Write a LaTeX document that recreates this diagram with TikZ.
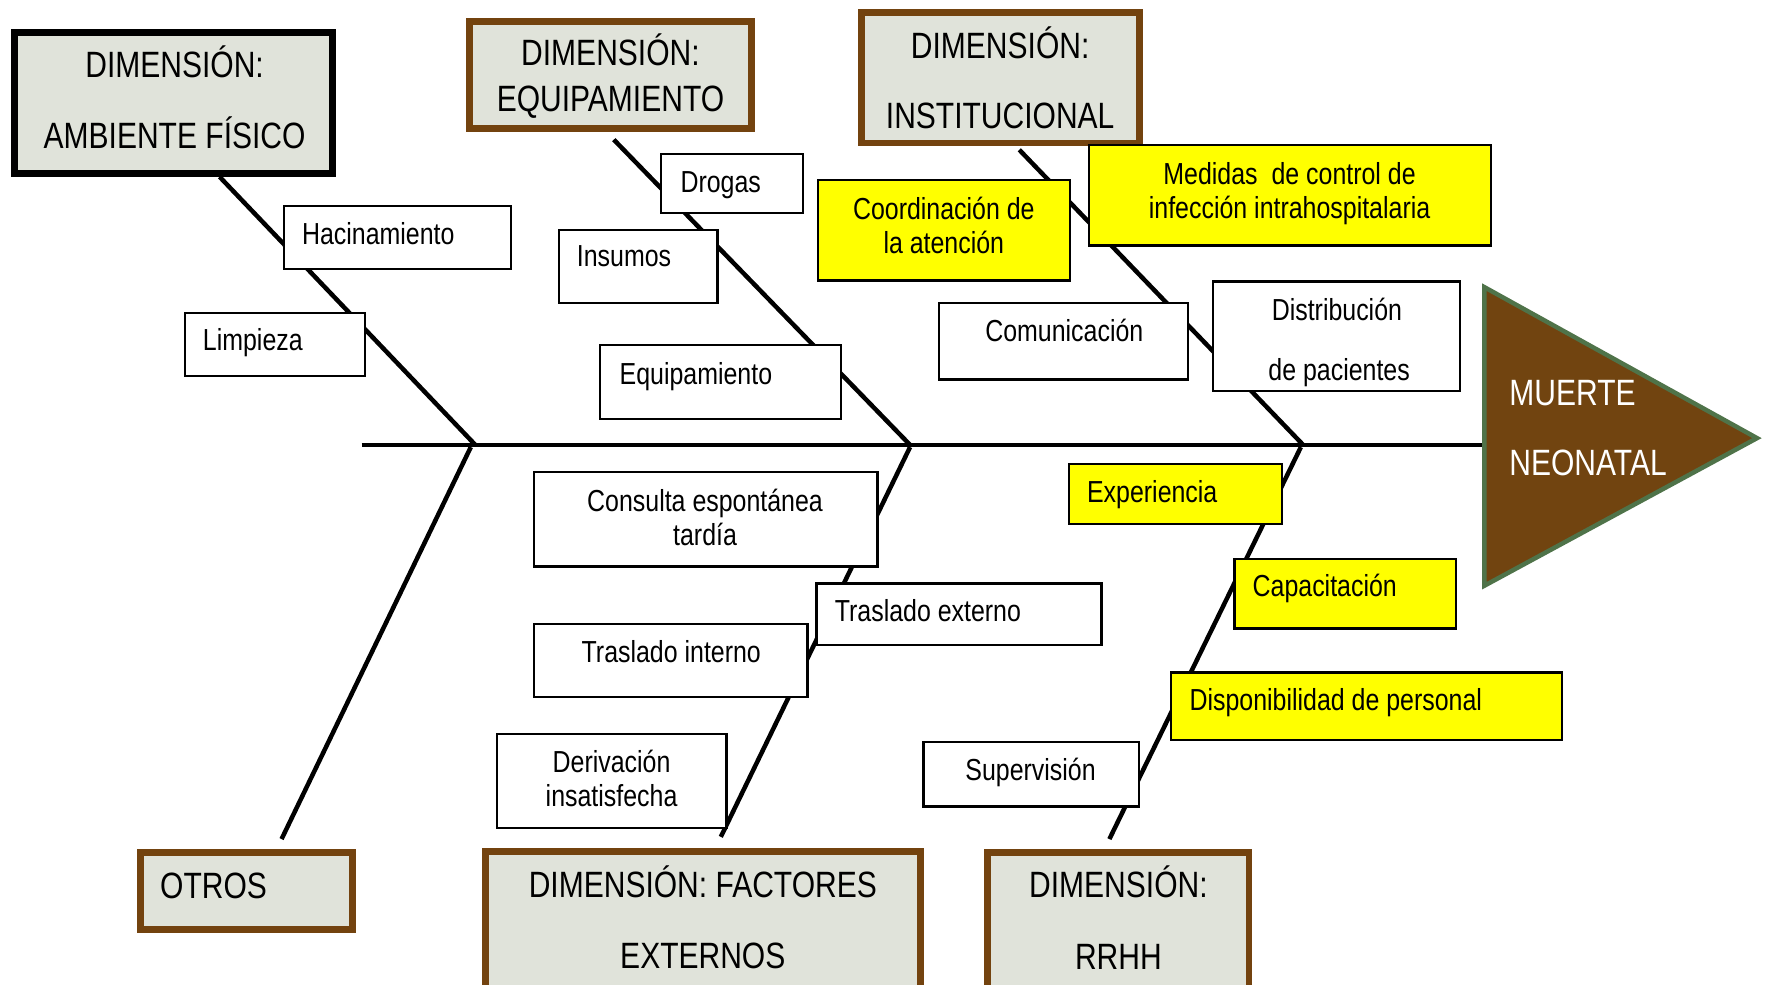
\documentclass[tikz,border=0pt]{standalone}
\usepackage{fontspec}
\setmainfont{Liberation Sans}[FakeStretch=0.82]
\definecolor{dimfill}{HTML}{E0E3DA}
\definecolor{dimbrown}{HTML}{73430F}
\definecolor{trifill}{HTML}{714410}
\definecolor{trigreen}{HTML}{4F7349}
\definecolor{ylw}{HTML}{FFFF00}
\tikzset{
  boxbase/.style={rectangle, inner sep=0pt, outer sep=0pt},
  smallbox/.style={boxbase, draw=black, line width=2pt, fill=white},
  yellowbox/.style={boxbase, draw=black, line width=2pt, fill=ylw},
  dimbox/.style={boxbase, draw=dimbrown, line width=6pt, fill=dimfill},
  ambbox/.style={boxbase, draw=black, line width=6pt, fill=dimfill},
  bone/.style={line width=4pt, black},
  spineline/.style={line width=4pt, black},
  smalltxt/.style={inner sep=0pt, font=\fontsize{27}{32}\selectfont},
  bigtxt/.style={inner sep=0pt, font=\fontsize{32.5}{38}\selectfont},
}
\begin{document}
\begin{tikzpicture}[x=1pt,y=-1pt]
\useasboundingbox (0,0) rectangle (1568,874);
% joints and bone ends
\coordinate (s0) at (321,395);
\coordinate (s1) at (1318,395);
\coordinate (j1) at (422,395);
\coordinate (j2) at (808,395);
\coordinate (j3) at (1157,395);
\coordinate (k1) at (418,397);
\coordinate (k2) at (808,397);
\coordinate (k3) at (1155,397);
\coordinate (a0) at (195,157);
\coordinate (e0) at (545,124);
\coordinate (i0) at (905,133);
\coordinate (o0) at (250,745);
\coordinate (f0) at (640,743);
\coordinate (r0) at (985,745);
% spine and bones
\draw[spineline] (s0) -- (s1);
\draw[bone] (a0) -- (j1);
\draw[bone] (e0) -- (j2);
\draw[bone] (i0) -- (j3);
\draw[bone] (o0) -- (k1);
\draw[bone] (f0) -- (k2);
\draw[bone] (r0) -- (k3);
% head
\draw[fill=trifill, draw=trigreen, line width=4pt, line join=miter] (1318,255) -- (1560,389) -- (1318,520) -- cycle;
\node[bigtxt, anchor=base west, text=white] (mue1) at (1340,360) {MUERTE};
\node[bigtxt, anchor=base west, text=white] (mue2) at (1340,422) {NEONATAL};
% dimension boxes
\node[ambbox, minimum width=282pt, minimum height=125pt] (amb) at (154,91.5) {};
\node[bigtxt, anchor=base] at (155,69) {DIMENSIÓN:};
\node[bigtxt, anchor=base] at (155,132) {AMBIENTE FÍSICO};
\node[dimbox, minimum width=250pt, minimum height=95pt] (equ) at (542,66.5) {};
\node[bigtxt, anchor=base] at (542,58) {DIMENSIÓN:};
\node[bigtxt, anchor=base] at (542,99) {EQUIPAMIENTO};
\node[dimbox, minimum width=247pt, minimum height=116pt] (ist) at (888.5,69) {};
\node[bigtxt, anchor=base] at (888,52) {DIMENSIÓN:};
\node[bigtxt, anchor=base] at (888,114) {INSTITUCIONAL};
\node[dimbox, minimum width=188pt, minimum height=68pt] (otr) at (219,791) {};
\node[bigtxt, anchor=base west] at (142,798) {OTROS};
\node[dimbox, minimum width=386pt, minimum height=131pt] (fac) at (624,821.5) {};
\node[bigtxt, anchor=base] at (624,797) {DIMENSIÓN: FACTORES};
\node[bigtxt, anchor=base] at (624,860) {EXTERNOS};
\node[dimbox, minimum width=232pt, minimum height=130pt] (rrh) at (993,822) {};
\node[bigtxt, anchor=base] at (993,797) {DIMENSIÓN:};
\node[bigtxt, anchor=base] at (993,861) {RRHH};
% cause boxes
\node[smallbox, minimum width=202pt, minimum height=56pt] (hac) at (353,211) {};
\node[smalltxt, anchor=base west] at (268,217) {Hacinamiento};
\node[smallbox, minimum width=160pt, minimum height=56pt] (lim) at (244,306) {};
\node[smalltxt, anchor=base west] at (180,311) {Limpieza};
\node[smallbox, minimum width=126pt, minimum height=52pt] (dro) at (650,163) {};
\node[smalltxt, anchor=base west] at (604,171) {Drogas};
\node[smallbox, minimum width=141pt, minimum height=65pt] (ins) at (566.5,236.5) {};
\node[smalltxt, anchor=base west] at (512,237) {Insumos};
\node[smallbox, minimum width=214pt, minimum height=66pt] (eqp) at (640,339) {};
\node[smalltxt, anchor=base west] at (550,341) {Equipamiento};
\node[yellowbox, minimum width=224pt, minimum height=89pt] (coo) at (838,204.5) {};
\node[smalltxt, anchor=base] at (838,195) {Coordinación de};
\node[smalltxt, anchor=base] at (838,225) {la atención};
\node[yellowbox, minimum width=357pt, minimum height=89pt] (med) at (1145.5,173.5) {};
\node[smalltxt, anchor=base] at (1145,164) {Medidas\ \ de control de};
\node[smalltxt, anchor=base] at (1145,194) {infección intrahospitalaria};
\node[smallbox, minimum width=221pt, minimum height=68pt] (com) at (944.5,303) {};
\node[smalltxt, anchor=base] at (945,303) {Comunicación};
\node[smallbox, minimum width=219pt, minimum height=97pt] (dis) at (1186.5,298.5) {};
\node[smalltxt, anchor=base] at (1187,285) {Distribución};
\node[smalltxt, anchor=base] at (1189,338) {de pacientes};
\node[smallbox, minimum width=305pt, minimum height=84pt] (con) at (626.5,461) {};
\node[smalltxt, anchor=base] at (626,454) {Consulta espontánea};
\node[smalltxt, anchor=base] at (626,484) {tardía};
\node[smallbox, minimum width=253pt, minimum height=55pt] (tex) at (851.5,545.5) {};
\node[smalltxt, anchor=base west] at (741,552) {Traslado externo};
\node[smallbox, minimum width=243pt, minimum height=65pt] (tin) at (595.5,586.5) {};
\node[smalltxt, anchor=base] at (596,588) {Traslado interno};
\node[smallbox, minimum width=204pt, minimum height=83pt] (der) at (543,693.5) {};
\node[smalltxt, anchor=base] at (543,686) {Derivación};
\node[smalltxt, anchor=base] at (543,716) {insatisfecha};
\node[yellowbox, minimum width=189pt, minimum height=53pt] (exp) at (1043.5,438.5) {};
\node[smalltxt, anchor=base west] at (965,446) {Experiencia};
\node[yellowbox, minimum width=197pt, minimum height=62pt] (cap) at (1194.5,527) {};
\node[smalltxt, anchor=base west] at (1112,530) {Capacitación};
\node[yellowbox, minimum width=347pt, minimum height=60pt] (dsp) at (1213.5,627) {};
\node[smalltxt, anchor=base west] at (1056,631) {Disponibilidad de personal};
\node[smallbox, minimum width=191pt, minimum height=57pt] (sup) at (915.5,687.5) {};
\node[smalltxt, anchor=base] at (915,693) {Supervisión};
\end{tikzpicture}
\end{document}
